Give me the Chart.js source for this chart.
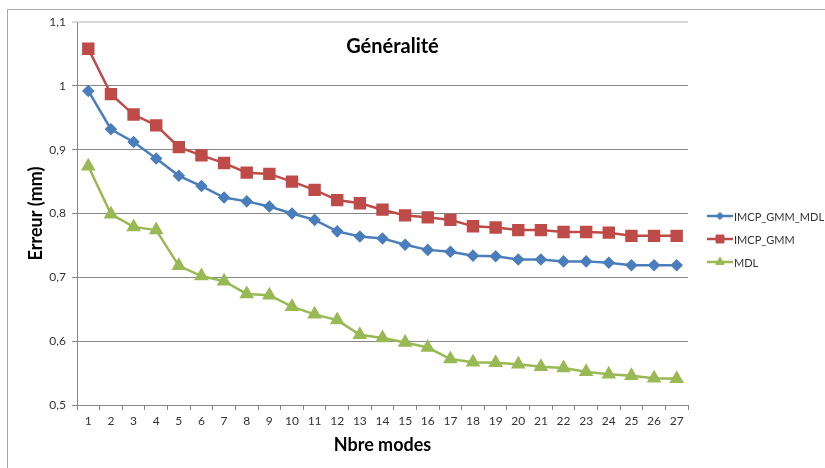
<!DOCTYPE html>
<html>
<head>
<meta charset="utf-8">
<title>Généralité</title>
<script src="https://cdn.jsdelivr.net/npm/chart.js@4.4.0/dist/chart.umd.min.js"></script>
<style>
  html, body { margin: 0; padding: 0; background: #fff; }
  #wrap { width: 825px; height: 468px; position: relative; }
</style>
</head>
<body>
<div id="wrap"><canvas id="lineChart"></canvas></div>
<script>
// Datos
var modes = ['1','2','3','4','5','6','7','8','9','10','11','12','13','14','15','16','17','18','19','20','21','22','23','24','25','26','27'];
var imcpGmmMdl = [0.992, 0.932, 0.912, 0.886, 0.859, 0.843, 0.825, 0.819, 0.811, 0.800, 0.790, 0.772, 0.764, 0.761, 0.751, 0.743, 0.740, 0.734, 0.733, 0.728, 0.728, 0.725, 0.725, 0.723, 0.719, 0.719, 0.719];
var imcpGmm = [1.058, 0.987, 0.955, 0.938, 0.904, 0.891, 0.879, 0.864, 0.862, 0.850, 0.837, 0.821, 0.816, 0.806, 0.797, 0.794, 0.790, 0.780, 0.778, 0.774, 0.774, 0.771, 0.771, 0.770, 0.765, 0.765, 0.765];
var mdl = [0.874, 0.799, 0.779, 0.774, 0.718, 0.702, 0.694, 0.674, 0.672, 0.654, 0.642, 0.633, 0.610, 0.605, 0.598, 0.590, 0.572, 0.567, 0.566, 0.564, 0.560, 0.558, 0.552, 0.548, 0.546, 0.542, 0.541];
var yTicks = [0.5, 0.6, 0.7, 0.8, 0.9, 1.0, 1.1];

var fontFamily = 'Lato, "Liberation Sans", sans-serif';

// Marco, título interior y leyenda a la derecha
var decorPlugin = {
    id: 'decor',
    beforeDraw: function(chart) {
        var ctx = chart.ctx;
        ctx.save();
        ctx.fillStyle = '#fff';
        ctx.fillRect(0, 0, chart.width, chart.height);
        ctx.strokeStyle = '#a6a6a6';
        ctx.lineWidth = 1;
        ctx.beginPath();
        ctx.moveTo(7.5, chart.height);
        ctx.lineTo(7.5, 9.5);
        ctx.lineTo(chart.width, 9.5);
        ctx.stroke();
        ctx.restore();
    },
    afterDraw: function(chart) {
        var ctx = chart.ctx;
        var area = chart.chartArea;
        ctx.save();
        ctx.fillStyle = '#000';
        ctx.font = 'bold 20px ' + fontFamily;
        ctx.textAlign = 'center';
        ctx.textBaseline = 'middle';
        ctx.fillText('Généralité', (area.left + area.right) / 2 + 10, 47);

        // leyenda
        var x0 = 707, y0 = 216, step = 23;
        ctx.font = '11px ' + fontFamily;
        ctx.textAlign = 'left';
        chart.data.datasets.forEach(function(ds, i) {
            var y = y0 + i * step;
            ctx.strokeStyle = ds.borderColor;
            ctx.lineWidth = 2.5;
            ctx.beginPath();
            ctx.moveTo(x0, y);
            ctx.lineTo(x0 + 26, y);
            ctx.stroke();
            ctx.fillStyle = ds.pointBackgroundColor;
            ctx.strokeStyle = ds.pointBorderColor;
            ctx.lineWidth = 1;
            Chart.helpers.drawPoint(ctx, {
                pointStyle: ds.pointStyle,
                radius: ds.pointRadius * 0.8,
                rotation: 0,
                borderWidth: 1
            }, x0 + 13, y);
            ctx.fillStyle = '#333';
            ctx.fillText(ds.label, x0 + 27, y + 1);
        });
        ctx.restore();
    }
};

var ctx = document.getElementById('lineChart').getContext('2d');
var myLineChart = new Chart(ctx, {
    type: 'line',
    data: {
        labels: modes,
        datasets: [{
            label: 'IMCP_GMM_MDL',
            data: imcpGmmMdl,
            borderColor: '#4a7ebb',
            backgroundColor: '#4a7ebb',
            pointBackgroundColor: '#4a7ebb',
            pointBorderColor: '#4a7ebb',
            pointStyle: 'rectRot',
            pointRadius: 4.5,
            borderWidth: 2.5
        }, {
            label: 'IMCP_GMM',
            data: imcpGmm,
            borderColor: '#be4b48',
            backgroundColor: '#be4b48',
            pointBackgroundColor: '#be4b48',
            pointBorderColor: '#be4b48',
            pointStyle: 'rect',
            pointRadius: 7,
            borderWidth: 2.5
        }, {
            label: 'MDL',
            data: mdl,
            borderColor: '#98b954',
            backgroundColor: '#98b954',
            pointBackgroundColor: '#98b954',
            pointBorderColor: '#98b954',
            pointStyle: 'triangle',
            pointRadius: 6,
            borderWidth: 2.5
        }]
    },
    options: {
        responsive: true,
        maintainAspectRatio: false,
        animation: false,
        layout: {
            padding: { left: 0, right: 137, top: 22, bottom: 0 }
        },
        plugins: {
            legend: { display: false },
            title: { display: false },
            tooltip: { enabled: false }
        },
        scales: {
            x: {
                offset: true,
                grid: {
                    offset: true,
                    drawOnChartArea: false,
                    drawTicks: true,
                    tickLength: 5,
                    color: '#868686'
                },
                border: { color: '#868686', width: 1 },
                ticks: {
                    color: '#333',
                    font: { family: fontFamily, size: 12 },
                    padding: 4,
                    maxRotation: 0,
                    autoSkip: false
                },
                title: {
                    display: true,
                    text: 'Nbre modes',
                    color: '#000',
                    font: { family: fontFamily, size: 18, weight: 'bold' },
                    padding: { top: 4, bottom: 12 }
                },
                afterFit: function(scale) { scale.height = 63; }
            },
            y: {
                min: 0.5,
                max: 1.1,
                afterBuildTicks: function(scale) {
                    scale.ticks = yTicks.map(function(v) { return { value: v }; });
                },
                grid: {
                    color: function(c) {
                        return c.tick && c.tick.value > 1.05 ? '#d9d9d9' : '#868686';
                    },
                    lineWidth: function(c) {
                        return c.tick && c.tick.value > 1.05 ? 2 : 1;
                    },
                    tickLength: 5
                },
                border: { color: '#868686', width: 1 },
                ticks: {
                    color: '#333',
                    font: { family: fontFamily, size: 12 },
                    padding: 6,
                    callback: function(value) {
                        return String(Math.round(value * 10) / 10).replace('.', ',');
                    }
                },
                title: {
                    display: true,
                    text: 'Erreur (mm)',
                    color: '#000',
                    font: { family: fontFamily, size: 18, weight: 'bold' },
                    padding: { top: 25, bottom: 0 }
                },
                afterFit: function(scale) { scale.width = 77; }
            }
        }
    },
    plugins: [decorPlugin]
});
</script>
</body>
</html>
